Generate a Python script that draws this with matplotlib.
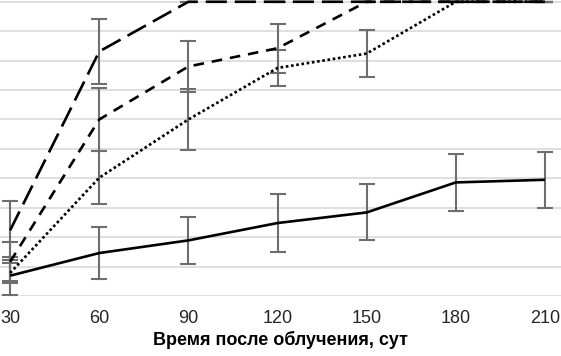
import matplotlib.pyplot as plt

plt.rcParams['font.family'] = ['Liberation Sans', 'DejaVu Sans']

days = [30, 60, 90, 120, 150, 180, 210]

# four series, % (lines plateau at 100)
s_solid = [6.9, 14.6, 18.9, 24.8, 28.4, 38.6, 39.5]
e_solid = [6.5, 8.8, 8.1, 9.8, 9.5, 9.6, 9.6]

s_dot = [7.8, 40.2, 60.0, 77.5, 82.4, 100, 100]
e_dot = [3.5, 9.1, 10.4, 6.0, 8.0, 0, 0]

s_dash = [11.6, 60.0, 78.0, 84.2, 100, 100, 100]
e_dash = [6.6, 10.6, 8.7, 8.4, 0, 0, 0]

s_long = [22.3, 83.1, 100, 100, 100, 100, 100]
e_long = [10.0, 11.0, 0, 0, 0, 0, 0]

fig = plt.figure(figsize=(5.61, 3.56), dpi=100)
ax = fig.add_axes([0, 60 / 356, 1, 296 / 356])

series = [
    (s_solid, e_solid, (0, ())),
    (s_dot, e_dot, (0, (1, 1))),
    (s_dash, e_dash, (0, (4, 3))),
    (s_long, e_long, (0, (8, 3))),
]
for vals, errs, ls in series:
    ax.errorbar(days, vals, yerr=errs, fmt='none', ecolor='#6e6e6e',
                elinewidth=1.5, capsize=6, capthick=1.5, zorder=2)
for vals, errs, ls in series:
    ax.plot(days, vals, color='black', linewidth=1.9, linestyle=ls, zorder=3)

ax.set_xlim(26.6, 215.4)
ax.set_ylim(0, 100.6)
ax.set_yticks(range(0, 101, 10))
ax.yaxis.grid(True, color='#d9d9d9', linewidth=1.2)
ax.set_axisbelow(True)
ax.set_yticklabels([])
ax.tick_params(axis='y', length=0)
ax.set_xticks(days)
ax.tick_params(axis='x', length=0, pad=10, labelsize=13, labelcolor='#262626')
for sp in ax.spines.values():
    sp.set_visible(False)
ax.set_xlabel('Время после облучения, сут', fontsize=13, fontweight='bold', labelpad=3)

fig.savefig('out.png', dpi=100)
